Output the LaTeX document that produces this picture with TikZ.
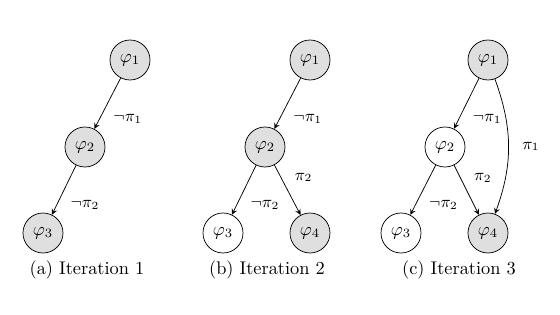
\documentclass[tikz,border=0pt]{standalone}
\begin{document}
\begin{tikzpicture}[x=0.545pt, y=-0.545pt, >=stealth,
  state/.style={circle, draw, minimum size=21.8pt, inner sep=0pt},
  done/.style={state, fill=gray!25},
  lbl/.style={right=4pt, pos=0.8, font=\small}]
\useasboundingbox (0,0) rectangle (560,315);
% (a)
\node[done] (a1) at (130,60) {$\varphi_1$};
\node[done] (a2) at (85,147) {$\varphi_2$};
\node[done] (a3) at (43,233) {$\varphi_3$};
\draw[->] (a1) -- (a2) node[lbl] {$\neg\pi_1$};
\draw[->] (a2) -- (a3) node[lbl] {$\neg\pi_2$};
\node (capa) at (87,270) {(a) Iteration 1};
% (b)
\node[done] (b1) at (310,60) {$\varphi_1$};
\node[done] (b2) at (265,147) {$\varphi_2$};
\node[state] (b3) at (223,233) {$\varphi_3$};
\node[done] (b4) at (310,233) {$\varphi_4$};
\draw[->] (b1) -- (b2) node[lbl] {$\neg\pi_1$};
\draw[->] (b2) -- (b3) node[lbl] {$\neg\pi_2$};
\draw[->] (b2) -- (b4) node[lbl, pos=0.25] {$\pi_2$};
\node (capb) at (267,270) {(b) Iteration 2};
% (c)
\node[done] (c1) at (488,60) {$\varphi_1$};
\node[state] (c2) at (445,147) {$\varphi_2$};
\node[state] (c3) at (401,233) {$\varphi_3$};
\node[done] (c4) at (488,233) {$\varphi_4$};
\draw[->] (c1) -- (c2) node[lbl] {$\neg\pi_1$};
\draw[->] (c2) -- (c3) node[lbl] {$\neg\pi_2$};
\draw[->] (c2) -- (c4) node[lbl, pos=0.25] {$\pi_2$};
\draw[->] (c1) to[bend left=20] node[lbl, pos=0.5] {$\pi_1$} (c4);
\node (capc) at (459,270) {(c) Iteration 3};
\end{tikzpicture}
\end{document}
